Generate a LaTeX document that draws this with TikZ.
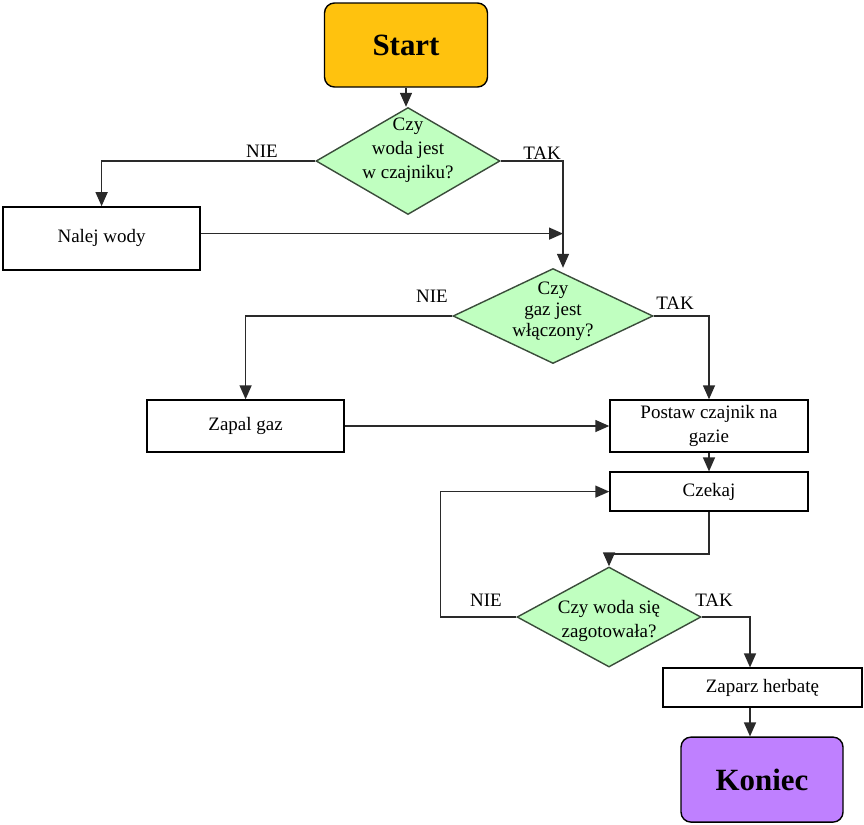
\documentclass[tikz,border=0pt]{standalone}
\usepackage{fontspec}
\setmainfont{Liberation Serif}
\usetikzlibrary{shapes.geometric,arrows.meta}
\definecolor{st}{HTML}{FFC20E}
\definecolor{kn}{HTML}{BF80FF}
\definecolor{dec}{HTML}{C0FFC0}
\definecolor{proc}{HTML}{FFFFFF}
\definecolor{wire}{HTML}{2A2A2A}
\tikzset{st/.style={black,draw=black,fill=st,rectangle,rounded corners=0.25cm,font=\fontsize{22}{26}\selectfont\bfseries,minimum width=4.075cm,minimum height=2.1cm}}
\tikzset{kn/.style={black,draw=black,fill=kn,rectangle,rounded corners=0.25cm,font=\fontsize{22}{26}\selectfont\bfseries,minimum width=4.05cm,minimum height=2.125cm}}
\tikzset{dec/.style={black,draw=black!70!dec,fill=dec,diamond,inner sep=0pt}}
\tikzset{proc/.style={black,draw=black,fill=proc,rectangle,inner sep=0pt,align=center,minimum width=4.95cm}}
\tikzset{lbl/.style={align=center,font=\fontsize{13.5}{17}\selectfont}}

\begin{document}
\begin{tikzpicture}[font=\fontsize{13.5}{16.5}\selectfont,line width=1pt,>={Triangle[width=0.3cm,length=0.35cm]}]
    \useasboundingbox (0,0) rectangle (21.6,-20.6);

    \node[st] (start) at (10.15,-1.125) {Start};

    \node[dec,minimum width=4.6cm,minimum height=2.675cm,label={[lbl,yshift=0.27cm]center:Czy\\woda jest\\w czajniku?}] (woda) at (10.2,-4.025) {};
    \node[proc,minimum width=4.925cm,minimum height=1.575cm] (nalej) at (2.54,-5.96) {Nalej wody};

    \node[dec,minimum width=5cm,minimum height=2.375cm,label={[lbl,font=\fontsize{13.5}{15}\selectfont,yshift=0.125cm]center:Czy\\gaz jest\\włączony?}] (gaz) at (13.825,-7.9) {};
    \node[proc,minimum width=4.925cm,minimum height=1.3cm] (zapal) at (6.14,-10.65) {Zapal gaz};
    \node[proc,minimum height=1.3cm] (postaw) at (17.725,-10.65) {Postaw czajnik na\\gazie};

    \node[proc,minimum height=0.975cm] (czekaj) at (17.725,-12.29) {Czekaj};

    \node[dec,minimum width=4.6cm,minimum height=2.5cm,label={[lbl,font=\fontsize{13.5}{16.5}\selectfont,yshift=-0.1cm]center:Czy woda się\\zagotowała?}] (wrzatek) at (15.225,-15.425) {};
    \node[proc,minimum width=4.975cm,minimum height=0.975cm] (zaparz) at (19.06,-17.19) {Zaparz herbatę};

    \node[kn] (koniec) at (19.05,-19.49) {Koniec};

    % wejscia lekko obok wierzcholkow
    \coordinate (gazin) at ([xshift=0.25cm]gaz.north);
    \coordinate (nalejout) at ([yshift=0.12cm]nalej.east);

    \draw[wire,->] (start.south) -- (start.south |- woda.north);

    \draw[wire,->] (woda.west) -| (nalej.north);
    \draw[wire,->] (woda.east) -| (gazin);
    \draw[wire,->] (nalejout) -- (nalejout -| gazin);

    \draw[wire,->] (gaz.west) -| (zapal.north);
    \draw[wire,->] (gaz.east) -| (postaw.north);
    \draw[wire,->] (zapal.east) -- (postaw.west);

    \draw[wire,->] (postaw.south) -- (czekaj.north);
    \draw[wire,->] (czekaj.south) -- ++(0,-1.05) -| (wrzatek.north);

    \draw[wire,->] (wrzatek.west) -- ++(-1.9,0) |- (czekaj.west);
    \draw[wire,->] (wrzatek.east) -| ([xshift=-0.31cm]zaparz.north);
    \draw[wire,->] ([xshift=-0.31cm]zaparz.south) -- ([xshift=-0.3cm]koniec.north);

    \node (nie1) at (6.55,-3.775) {NIE};
    \node (tak1) at (13.55,-3.825) {TAK};
    \node (nie2) at (10.8,-7.4) {NIE};
    \node (tak2) at (16.875,-7.575) {TAK};
    \node (nie3) at (12.15,-15) {NIE};
    \node (tak3) at (17.85,-15) {TAK};
\end{tikzpicture}
\end{document}
